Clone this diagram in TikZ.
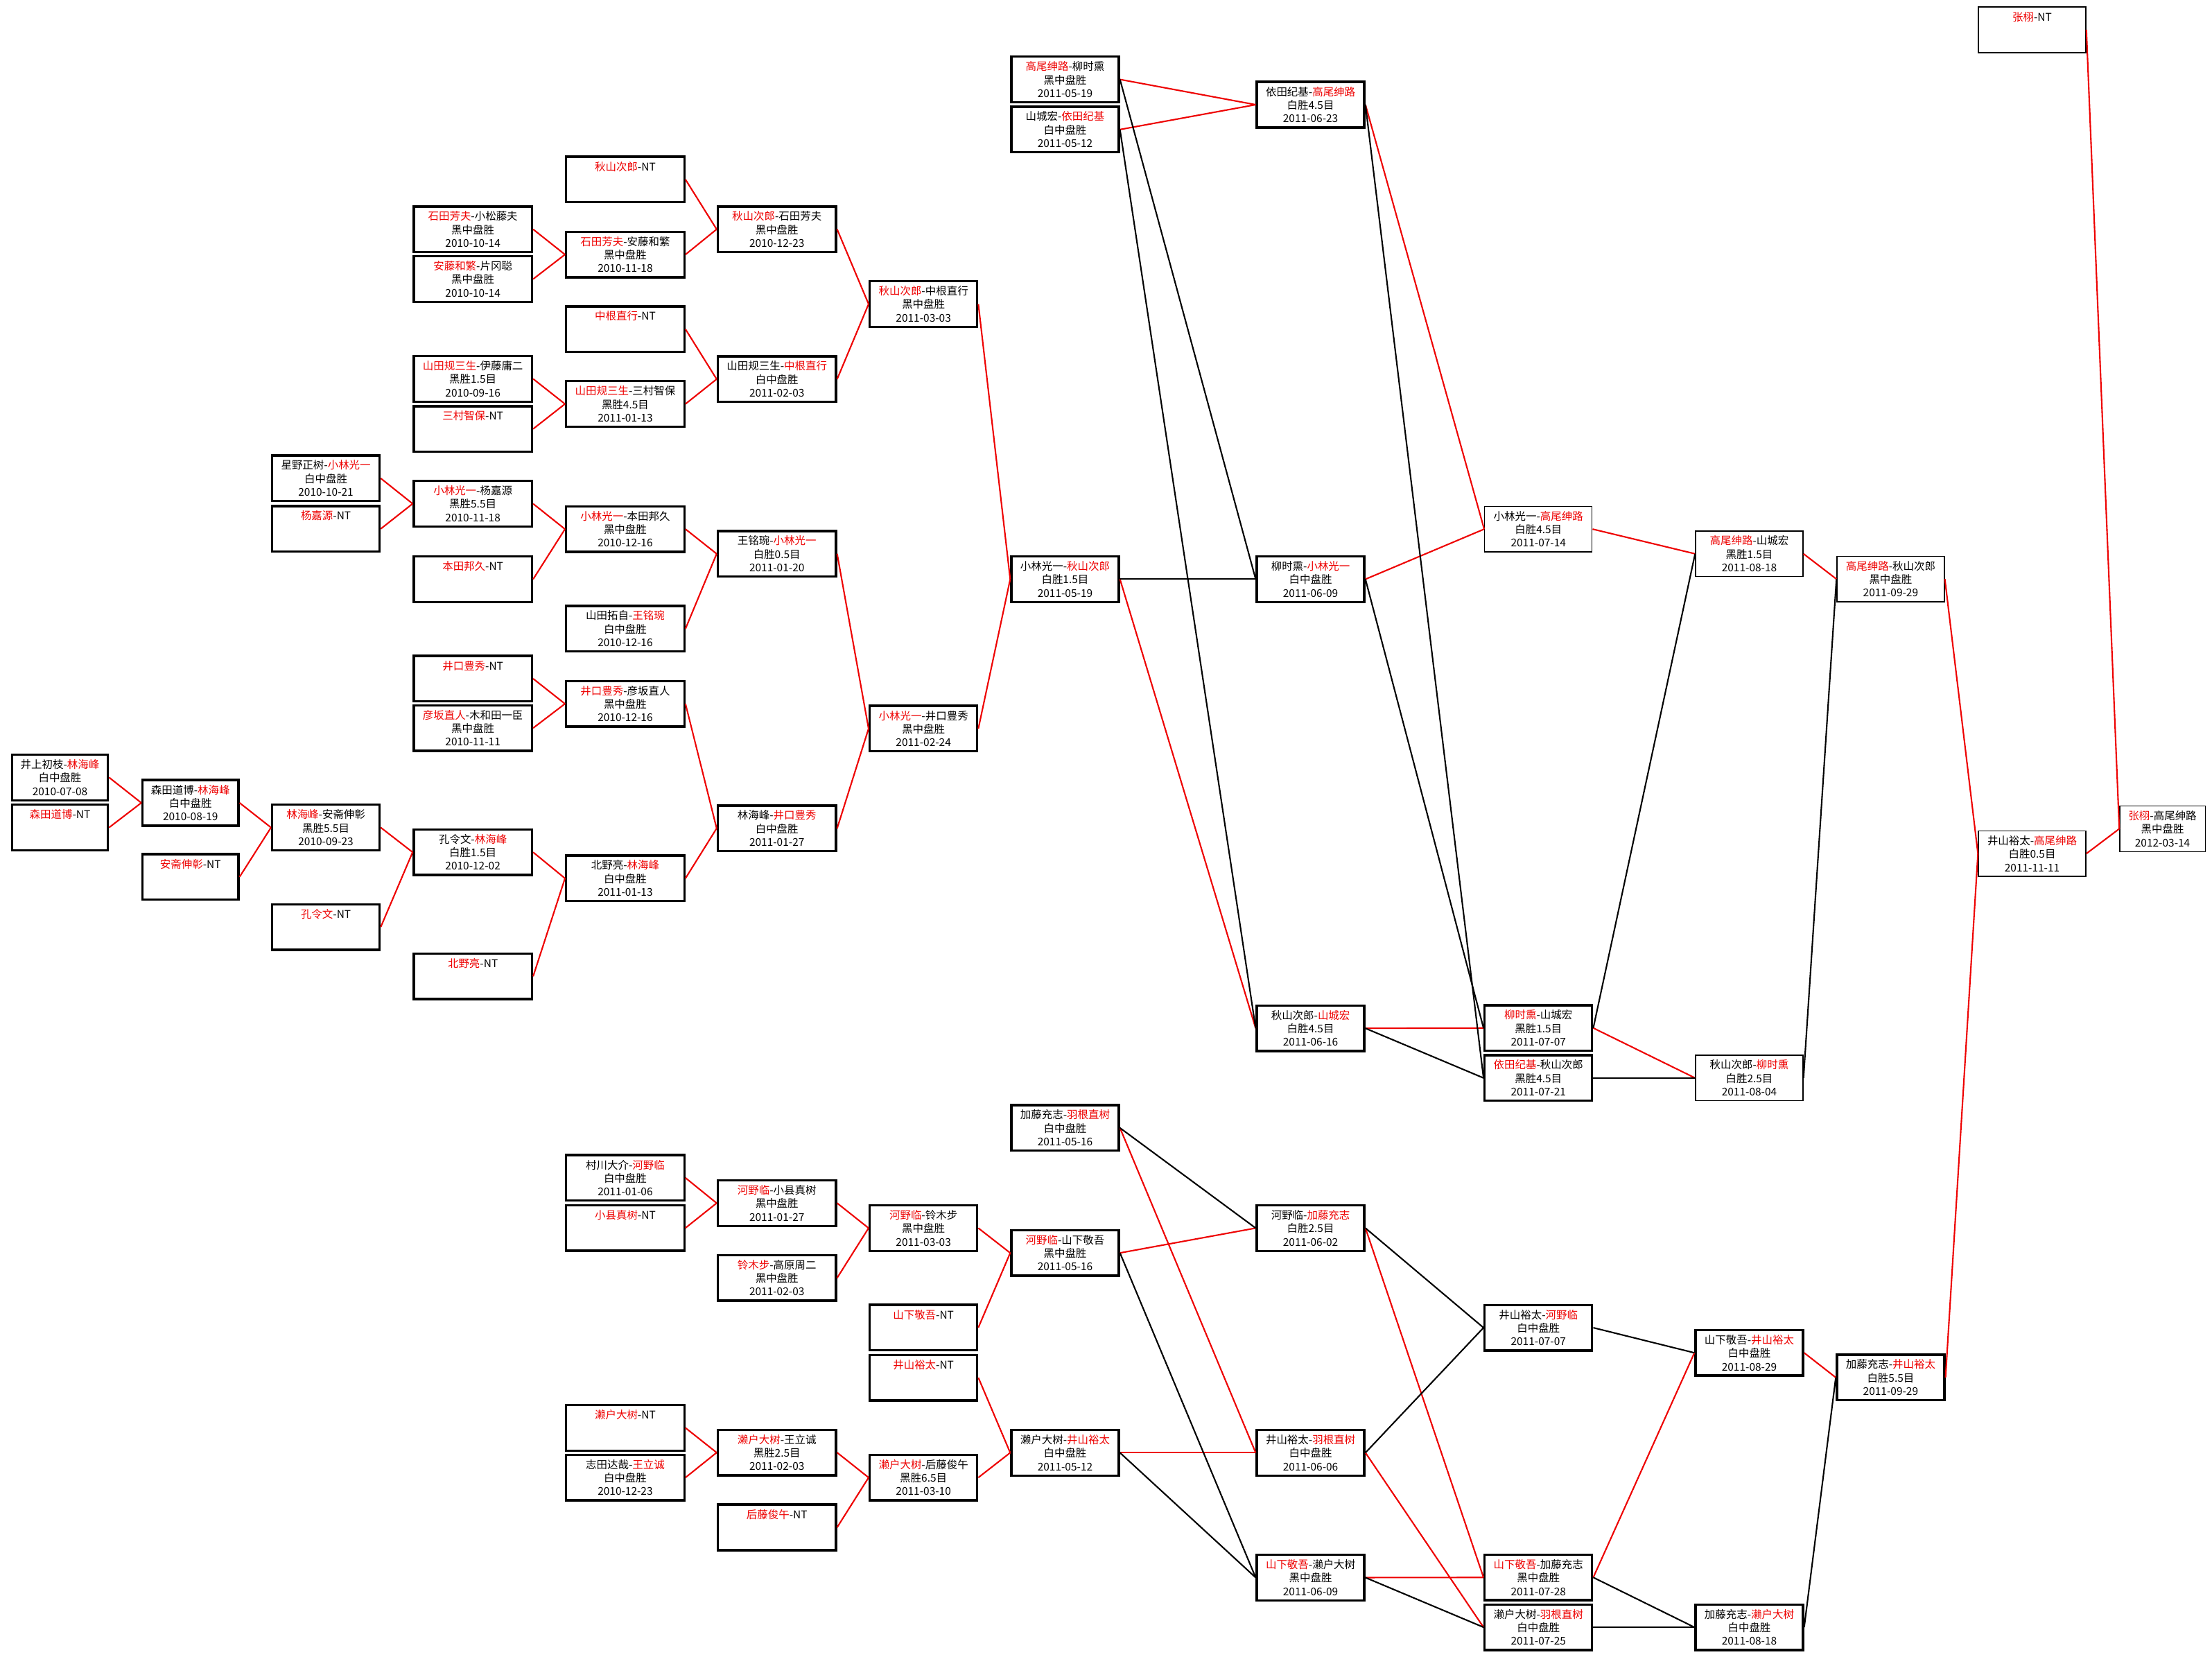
\documentclass[tikz,border=0pt]{standalone}
\usepackage{fontspec}
\usepackage{tikz}
\newfontfamily\cjkfont{Noto Sans CJK SC}
\definecolor{winred}{RGB}{238,0,0}
\newcommand{\wn}[1]{\textcolor{winred}{#1}}

\begin{document}
\begin{tikzpicture}[x=0.20351mm,y=-0.20351mm,
    box/.style={draw,fill=white,line width=.95pt,inner sep=0pt,minimum height=6.57mm,align=center,font=\cjkfont\fontsize{4.4}{5.5}\selectfont},
    wA/.style={minimum width=13.84mm},
    wB/.style={minimum width=15.5mm},
    wC/.style={minimum width=17.05mm},
    wD/.style={minimum width=12.33mm},
    win/.style={draw=winred,line width=.6pt},
    lose/.style={draw=black,line width=.6pt}]
\fill[white] (0,0) rectangle (1568,1174);
\useasboundingbox (0,0) rectangle (1568,1174);

\node[box,wA] (g1_1) at (42.5,551) {井上初枝-\wn{林海峰}\\白中盘胜\\2010-07-08};
\node[box,wA] (g1_2) at (42.5,586.5) {\wn{森田道博}-NT\\~\\~};

\node[box,wA] (g2_1) at (135,569) {森田道博-\wn{林海峰}\\白中盘胜\\2010-08-19};
\node[box,wA] (g2_2) at (135,621.5) {\wn{安斋伸彰}-NT\\~\\~};

\node[box,wB] (g3_1) at (231,339) {星野正树-\wn{小林光一}\\白中盘胜\\2010-10-21};
\node[box,wB] (g3_2) at (231,374.8) {\wn{杨嘉源}-NT\\~\\~};
\node[box,wB] (g3_3) at (231,586.5) {\wn{林海峰}-安斋伸彰\\黑胜5.5目\\2010-09-23};
\node[box,wB] (g3_4) at (231,657) {\wn{孔令文}-NT\\~\\~};

\node[box,wC] (g4_1) at (335.2,162.5) {\wn{石田芳夫}-小松藤夫\\黑中盘胜\\2010-10-14};
\node[box,wC] (g4_2) at (335.2,197.8) {\wn{安藤和繁}-片冈聪\\黑中盘胜\\2010-10-14};
\node[box,wC] (g4_3) at (335.2,268.5) {\wn{山田规三生}-伊藤庸二\\黑胜1.5目\\2010-09-16};
\node[box,wC] (g4_4) at (335.2,304) {\wn{三村智保}-NT\\~\\~};
\node[box,wC] (g4_5) at (335.2,357) {\wn{小林光一}-杨嘉源\\黑胜5.5目\\2010-11-18};
\node[box,wC] (g4_6) at (335.2,410.5) {\wn{本田邦久}-NT\\~\\~};
\node[box,wC] (g4_7) at (335.2,481) {\wn{井口豊秀}-NT\\~\\~};
\node[box,wC] (g4_8) at (335.2,516) {\wn{彦坂直人}-木和田一臣\\黑中盘胜\\2010-11-11};
\node[box,wC] (g4_9) at (335.2,604) {孔令文-\wn{林海峰}\\白胜1.5目\\2010-12-02};
\node[box,wC] (g4_10) at (335.2,692) {\wn{北野亮}-NT\\~\\~};

\node[box,wC] (g5_1) at (443.2,127.2) {\wn{秋山次郎}-NT\\~\\~};
\node[box,wC] (g5_2) at (443.2,180.4) {\wn{石田芳夫}-安藤和繁\\黑中盘胜\\2010-11-18};
\node[box,wC] (g5_3) at (443.2,233.3) {\wn{中根直行}-NT\\~\\~};
\node[box,wC] (g5_4) at (443.2,286.3) {\wn{山田规三生}-三村智保\\黑胜4.5目\\2011-01-13};
\node[box,wC] (g5_5) at (443.2,375) {\wn{小林光一}-本田邦久\\黑中盘胜\\2010-12-16};
\node[box,wC] (g5_6) at (443.2,445.6) {山田拓自-\wn{王铭琬}\\白中盘胜\\2010-12-16};
\node[box,wC] (g5_7) at (443.2,498.8) {\wn{井口豊秀}-彦坂直人\\黑中盘胜\\2010-12-16};
\node[box,wC] (g5_8) at (443.2,622.5) {北野亮-\wn{林海峰}\\白中盘胜\\2011-01-13};
\node[box,wC] (g5_9) at (443.2,834.8) {村川大介-\wn{河野临}\\白中盘胜\\2011-01-06};
\node[box,wC] (g5_10) at (443.2,870.3) {\wn{小县真树}-NT\\~\\~};
\node[box,wC] (g5_11) at (443.2,1012) {\wn{濑户大树}-NT\\~\\~};
\node[box,wC] (g5_12) at (443.2,1047.2) {志田达哉-\wn{王立诚}\\白中盘胜\\2010-12-23};

\node[box,wC] (g6_1) at (550.7,162.5) {\wn{秋山次郎}-石田芳夫\\黑中盘胜\\2010-12-23};
\node[box,wC] (g6_2) at (550.7,268.7) {山田规三生-\wn{中根直行}\\白中盘胜\\2011-02-03};
\node[box,wC] (g6_3) at (550.7,392.5) {王铭琬-\wn{小林光一}\\白胜0.5目\\2011-01-20};
\node[box,wC] (g6_4) at (550.7,587.1) {林海峰-\wn{井口豊秀}\\白中盘胜\\2011-01-27};
\node[box,wC] (g6_5) at (550.7,852.7) {\wn{河野临}-小县真树\\黑中盘胜\\2011-01-27};
\node[box,wC] (g6_6) at (550.7,905.7) {\wn{铃木步}-高原周二\\黑中盘胜\\2011-02-03};
\node[box,wC] (g6_7) at (550.7,1029.5) {\wn{濑户大树}-王立诚\\黑胜2.5目\\2011-02-03};
\node[box,wC] (g6_8) at (550.7,1082.5) {\wn{后藤俊午}-NT\\~\\~};

\node[box,wB] (g7_1) at (654.6,215.5) {\wn{秋山次郎}-中根直行\\黑中盘胜\\2011-03-03};
\node[box,wB] (g7_2) at (654.6,516.4) {\wn{小林光一}-井口豊秀\\黑中盘胜\\2011-02-24};
\node[box,wB] (g7_3) at (654.6,870.4) {\wn{河野临}-铃木步\\黑中盘胜\\2011-03-03};
\node[box,wB] (g7_4) at (654.6,940.9) {\wn{山下敬吾}-NT\\~\\~};
\node[box,wB] (g7_5) at (654.6,976.4) {\wn{井山裕太}-NT\\~\\~};
\node[box,wB] (g7_6) at (654.6,1047.2) {\wn{濑户大树}-后藤俊午\\黑胜6.5目\\2011-03-10};

\node[box,wB] (g8_1) at (755,56.3) {\wn{高尾绅路}-柳时熏\\黑中盘胜\\2011-05-19};
\node[box,wB] (g8_2) at (755,91.8) {山城宏-\wn{依田纪基}\\白中盘胜\\2011-05-12};
\node[box,wB] (g8_3) at (755,410.5) {小林光一-\wn{秋山次郎}\\白胜1.5目\\2011-05-19};
\node[box,wB] (g8_4) at (755,799.4) {加藤充志-\wn{羽根直树}\\白中盘胜\\2011-05-16};
\node[box,wB] (g8_5) at (755,888) {\wn{河野临}-山下敬吾\\黑中盘胜\\2011-05-16};
\node[box,wB] (g8_6) at (755,1029.6) {濑户大树-\wn{井山裕太}\\白中盘胜\\2011-05-12};

\node[box,wB] (g9_1) at (929,74.2) {依田纪基-\wn{高尾绅路}\\白胜4.5目\\2011-06-23};
\node[box,wB] (g9_2) at (929,410.5) {柳时熏-\wn{小林光一}\\白中盘胜\\2011-06-09};
\node[box,wB] (g9_3) at (929,728.8) {秋山次郎-\wn{山城宏}\\白胜4.5目\\2011-06-16};
\node[box,wB] (g9_4) at (929,870.4) {河野临-\wn{加藤充志}\\白胜2.5目\\2011-06-02};
\node[box,wB] (g9_5) at (929,1029.6) {井山裕太-\wn{羽根直树}\\白中盘胜\\2011-06-06};
\node[box,wB] (g9_6) at (929,1118.1) {\wn{山下敬吾}-濑户大树\\黑中盘胜\\2011-06-09};

\node[box,wB,thin] (g10_1) at (1090.5,375) {小林光一-\wn{高尾绅路}\\白胜4.5目\\2011-07-14};
\node[box,wB] (g10_2) at (1090.5,728.6) {\wn{柳时熏}-山城宏\\黑胜1.5目\\2011-07-07};
\node[box,wB] (g10_3) at (1090.5,764) {\wn{依田纪基}-秋山次郎\\黑胜4.5目\\2011-07-21};
\node[box,wB] (g10_4) at (1090.5,941) {井山裕太-\wn{河野临}\\白中盘胜\\2011-07-07};
\node[box,wB] (g10_5) at (1090.5,1118) {\wn{山下敬吾}-加藤充志\\黑中盘胜\\2011-07-28};
\node[box,wB] (g10_6) at (1090.5,1153.3) {濑户大树-\wn{羽根直树}\\白中盘胜\\2011-07-25};

\node[box,wB,thin] (g11_1) at (1240,392.5) {\wn{高尾绅路}-山城宏\\黑胜1.5目\\2011-08-18};
\node[box,wB,thin] (g11_2) at (1240,764) {秋山次郎-\wn{柳时熏}\\白胜2.5目\\2011-08-04};
\node[box,wB] (g11_3) at (1240,958.8) {山下敬吾-\wn{井山裕太}\\白中盘胜\\2011-08-29};
\node[box,wB] (g11_4) at (1240,1153.3) {加藤充志-\wn{濑户大树}\\白中盘胜\\2011-08-18};

\node[box,wB,thin] (g12_1) at (1340.2,410.4) {\wn{高尾绅路}-秋山次郎\\黑中盘胜\\2011-09-29};
\node[box,wB] (g12_2) at (1340.2,976.3) {加藤充志-\wn{井山裕太}\\白胜5.5目\\2011-09-29};

\node[box,wB,thin] (g13_1) at (1440.5,21.1) {\wn{张栩}-NT\\~\\~};
\node[box,wB,thin] (g13_2) at (1440.5,605) {井山裕太-\wn{高尾绅路}\\白胜0.5目\\2011-11-11};

\node[box,wD,thin] (g14_1) at (1532.9,587.4) {\wn{张栩}-高尾绅路\\黑中盘胜\\2012-03-14};

\path[win] (g1_1.east) edge (g2_1.west) (g1_2.east) edge (g2_1.west)
    (g2_1.east) edge (g3_3.west) (g2_2.east) edge (g3_3.west)
    (g3_1.east) edge (g4_5.west) (g3_2.east) edge (g4_5.west)
    (g3_3.east) edge (g4_9.west) (g3_4.east) edge (g4_9.west)
    (g4_1.east) edge (g5_2.west) (g4_2.east) edge (g5_2.west)
    (g4_3.east) edge (g5_4.west) (g4_4.east) edge (g5_4.west)
    (g4_5.east) edge (g5_5.west) (g4_6.east) edge (g5_5.west)
    (g4_7.east) edge (g5_7.west) (g4_8.east) edge (g5_7.west)
    (g4_9.east) edge (g5_8.west) (g4_10.east) edge (g5_8.west)
    (g5_1.east) edge (g6_1.west) (g5_2.east) edge (g6_1.west)
    (g5_3.east) edge (g6_2.west) (g5_4.east) edge (g6_2.west)
    (g5_5.east) edge (g6_3.west) (g5_6.east) edge (g6_3.west)
    (g5_7.east) edge (g6_4.west) (g5_8.east) edge (g6_4.west)
    (g5_9.east) edge (g6_5.west) (g5_10.east) edge (g6_5.west)
    (g5_11.east) edge (g6_7.west) (g5_12.east) edge (g6_7.west)
    (g6_1.east) edge (g7_1.west) (g6_2.east) edge (g7_1.west)
    (g6_3.east) edge (g7_2.west) (g6_4.east) edge (g7_2.west)
    (g6_5.east) edge (g7_3.west) (g6_6.east) edge (g7_3.west)
    (g6_7.east) edge (g7_6.west) (g6_8.east) edge (g7_6.west)
    (g7_1.east) edge (g8_3.west) (g7_2.east) edge (g8_3.west)
    (g7_3.east) edge (g8_5.west) (g7_4.east) edge (g8_5.west)
    (g7_5.east) edge (g8_6.west) (g7_6.east) edge (g8_6.west);

\path[win] (g8_1.east) edge (g9_1.west) (g8_2.east) edge (g9_1.west)
    (g8_3.east) edge (g9_3.west)
    (g8_4.east) edge (g9_5.west) (g8_5.east) edge (g9_4.west)
    (g8_6.east) edge (g9_5.west)
    (g9_1.east) edge (g10_1.west) (g9_2.east) edge (g10_1.west)
    (g9_3.east) edge (g10_2.west)
    (g9_4.east) edge (g10_5.west) (g9_5.east) edge (g10_6.west)
    (g9_6.east) edge (g10_5.west)
    (g10_1.east) edge (g11_1.west) (g10_2.east) edge (g11_2.west)
    (g10_5.east) edge (g11_3.west)
    (g11_1.east) edge (g12_1.west) (g11_3.east) edge (g12_2.west)
    (g12_1.east) edge (g13_2.west) (g12_2.east) edge (g13_2.west)
    (g13_1.east) edge (g14_1.west) (g13_2.east) edge (g14_1.west);

\path[lose] (g8_1.east) edge (g9_2.west) (g8_2.east) edge (g9_3.west)
    (g8_3.east) edge (g9_2.west)
    (g8_4.east) edge (g9_4.west) (g8_5.east) edge (g9_6.west)
    (g8_6.east) edge (g9_6.west)
    (g9_1.east) edge (g10_3.west) (g9_2.east) edge (g10_2.west)
    (g9_3.east) edge (g10_3.west)
    (g9_4.east) edge (g10_4.west) (g9_5.east) edge (g10_4.west)
    (g9_6.east) edge (g10_6.west)
    (g10_2.east) edge (g11_1.west) (g10_3.east) edge (g11_2.west)
    (g10_4.east) edge (g11_3.west) (g10_5.east) edge (g11_4.west)
    (g10_6.east) edge (g11_4.west)
    (g11_2.east) edge (g12_1.west) (g11_4.east) edge (g12_2.west);
\end{tikzpicture}
\end{document}
